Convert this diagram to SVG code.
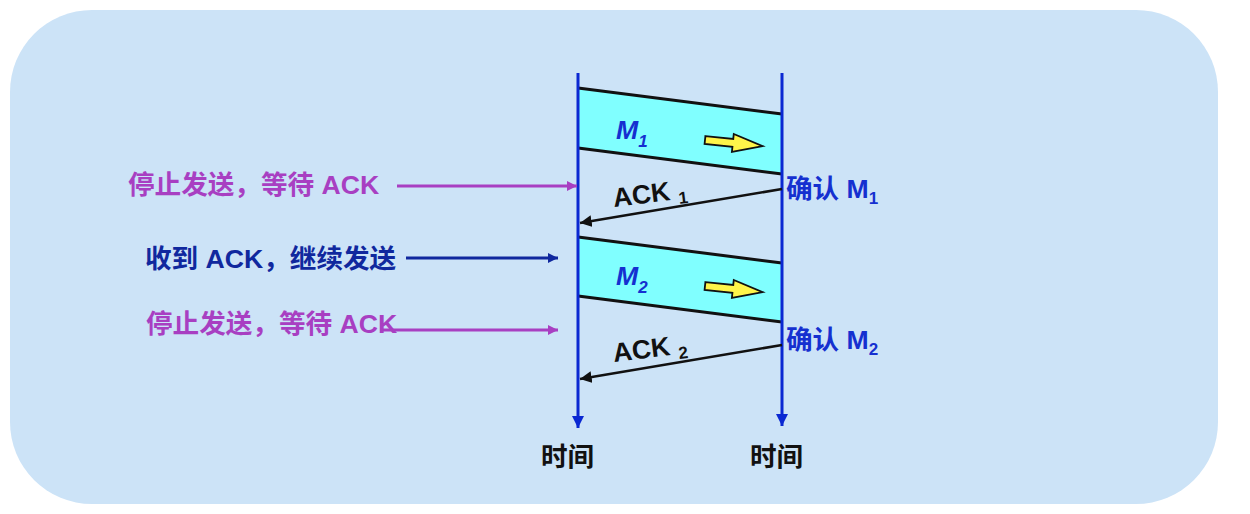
<svg xmlns="http://www.w3.org/2000/svg" width="1250" height="514" viewBox="0 0 1250 514">
<style>
.t{font-family:"Liberation Sans","Noto Sans CJK SC",sans-serif;font-weight:bold;font-size:26.6px}
.mag{fill:#A83FC2}
.dblue{fill:#10289E}
.blue{fill:#1530D0}
.blk{fill:#111}
.sub{font-size:17px}
.band{fill:#80FFFF;stroke:none}
.edge{stroke:#111;stroke-width:3;fill:none}
.tl{stroke:#0A28D2;stroke-width:3;fill:none}
</style>
<defs>
<marker id="mTl" viewBox="0 0 10 10" refX="10" refY="5" markerWidth="4" markerHeight="4" orient="auto" markerUnits="strokeWidth"><path d="M0,0 L10,5 L0,10 Z" fill="#0A28D2"/></marker>
<marker id="mBlk" viewBox="0 0 10 10" refX="10" refY="5" markerWidth="4.5" markerHeight="4.5" orient="auto" markerUnits="strokeWidth"><path d="M0,0 L10,5 L0,10 Z" fill="#111"/></marker>
<marker id="mMag" viewBox="0 0 10 10" refX="10" refY="5" markerWidth="3.5" markerHeight="3.5" orient="auto" markerUnits="strokeWidth"><path d="M0,0 L10,5 L0,10 Z" fill="#A83FC2"/></marker>
<marker id="mDb" viewBox="0 0 10 10" refX="10" refY="5" markerWidth="3.5" markerHeight="3.5" orient="auto" markerUnits="strokeWidth"><path d="M0,0 L10,5 L0,10 Z" fill="#10289E"/></marker>
<path id="yarrow" d="M0,-4 L28,-4 L28,-9 L58,0 L28,9 L28,4 L0,4 Z" fill="#FFF54A" stroke="#111" stroke-width="1.8" stroke-linejoin="miter"/>
</defs>
<rect x="10" y="10" width="1208" height="494" rx="82" ry="82" fill="#CCE3F7"/>

<g id="frame1">
<polygon class="band" points="578,88 782,114 782,174 578,148"/>
<line class="edge" x1="578" y1="88" x2="782" y2="114"/>
<line class="edge" x1="578" y1="148" x2="782" y2="174"/>
<use href="#yarrow" transform="translate(705,140) rotate(6)"/>
<text class="t blue" x="616" y="139" font-style="italic" font-size="28">M<tspan class="sub" dy="8" font-size="18">1</tspan></text>
</g>
<g id="frame2">
<polygon class="band" points="578,237 782,263 782,322 578,296"/>
<line class="edge" x1="578" y1="237" x2="782" y2="263"/>
<line class="edge" x1="578" y1="296" x2="782" y2="322"/>
<use href="#yarrow" transform="translate(705,286) rotate(6)"/>
<text class="t blue" x="616" y="285" font-style="italic" font-size="28">M<tspan class="sub" dy="8" font-size="18">2</tspan></text>
</g>

<g id="timelines">
<line class="tl" x1="578" y1="73" x2="578" y2="428" marker-end="url(#mTl)"/>
<line class="tl" x1="782" y1="73" x2="782" y2="426" marker-end="url(#mTl)"/>
</g>

<g id="connectors">
<line stroke="#111" stroke-width="2.6" x1="782" y1="189" x2="580" y2="223" marker-end="url(#mBlk)"/>
<line stroke="#111" stroke-width="2.6" x1="782" y1="345" x2="580" y2="379" marker-end="url(#mBlk)"/>
<line stroke="#A83FC2" stroke-width="3" x1="397" y1="186" x2="577" y2="186" marker-end="url(#mMag)"/>
<line stroke="#10289E" stroke-width="3" x1="406" y1="258" x2="558" y2="258" marker-end="url(#mDb)"/>
<line stroke="#A83FC2" stroke-width="3" x1="380" y1="330" x2="558" y2="330" marker-end="url(#mMag)"/>
</g>

<g id="ack1"><text class="t blk" font-size="25" transform="translate(614,207) rotate(-7)">ACK <tspan class="sub" dy="5">1</tspan></text></g>
<g id="ack2"><text class="t blk" font-size="25" transform="translate(614,362) rotate(-7)">ACK <tspan class="sub" dy="5">2</tspan></text></g>
<g id="conf1"><text class="t blue" x="786" y="198">确认 M<tspan class="sub" dy="6">1</tspan></text></g>
<g id="conf2"><text class="t blue" x="786" y="349">确认 M<tspan class="sub" dy="6">2</tspan></text></g>

<g id="lbl1"><text class="t mag" x="128" y="194">停止发送，等待 ACK</text></g>
<g id="lbl2"><text class="t dblue" x="145" y="268">收到 ACK，继续发送</text></g>
<g id="lbl3"><text class="t mag" x="146" y="333">停止发送，等待 ACK</text></g>

<g id="time1"><text class="t blk" x="541" y="466" font-size="28">时间</text></g>
<g id="time2"><text class="t blk" x="750" y="466" font-size="28">时间</text></g>
</svg>
